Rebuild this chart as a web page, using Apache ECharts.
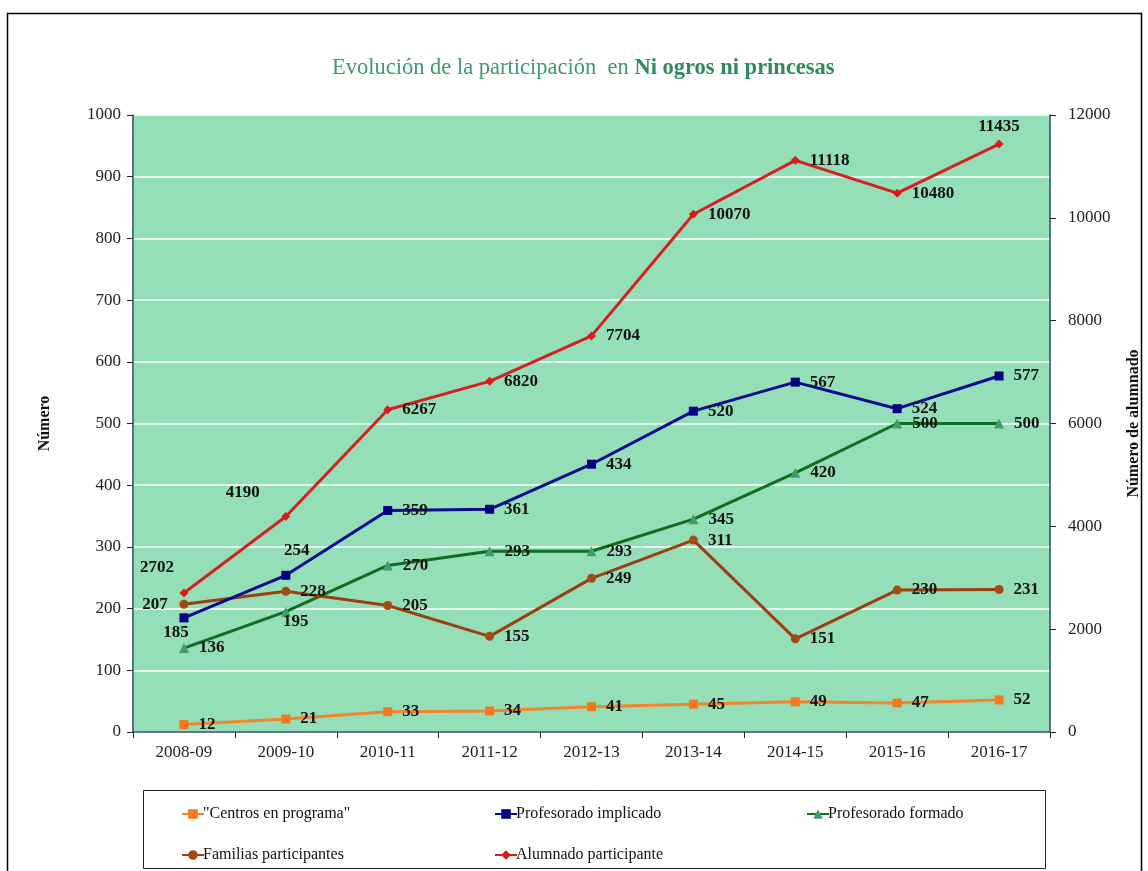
<!DOCTYPE html>
<html>
<head>
<meta charset="utf-8">
<script src="https://cdn.jsdelivr.net/npm/echarts@6/dist/echarts.min.js"></script>
<style>
  html, body { margin: 0; padding: 0; background: #fff; }
  #chart { width: 1148px; height: 871px; }
</style>
</head>
<body>
<div id="chart"></div>
<script>
// ---- Data ----
const categories = ['2008-09', '2009-10', '2010-11', '2011-12', '2012-13', '2013-14', '2014-15', '2015-16', '2016-17'];
const centros = [12, 21, 33, 34, 41, 45, 49, 47, 52];
const profImplicado = [185, 254, 359, 361, 434, 520, 567, 524, 577];
const profFormado = [136, 195, 270, 293, 293, 345, 420, 500, 500];
const familias = [207, 228, 205, 155, 249, 311, 151, 230, 231];
const alumnado = [2702, 4190, 6267, 6820, 7704, 10070, 11118, 10480, 11435];
const leftTicks = { min: 0, max: 1000, interval: 100 };
const rightTicks = { min: 0, max: 12000, interval: 2000 };

const FONT = '"Liberation Serif", "Times New Roman", serif';

const baseLabel = {
  show: true,
  position: 'right',
  distance: 10,
  color: '#111',
  fontFamily: FONT,
  fontWeight: 'bold',
  fontSize: 17
};

// per-point label overrides (style only)
function withLabels(values, overrides) {
  return values.map((v, i) => {
    const o = overrides[i];
    return o ? { value: v, label: o } : v;
  });
}

const chart = echarts.init(document.getElementById('chart'));

function legendItem(name, left, top) {
  return {
    data: [name],
    left: left,
    top: top,
    itemWidth: 22,
    itemHeight: 12,
    itemGap: 0,
    textStyle: { fontFamily: FONT, fontSize: 16, color: '#111', padding: [0, 0, 0, -6] },
    selectedMode: false
  };
}

const plainNum = v => String(v);

const option = {
  backgroundColor: '#ffffff',
  animation: false,
  title: {
    text: '{a|Evolución de la participación  en }{b|Ni ogros ni princesas}',
    left: 327,
    top: 52,
    textStyle: {
      rich: {
        a: { fontFamily: FONT, fontSize: 22.5, color: '#3c9a6c', fontWeight: 'normal' },
        b: { fontFamily: FONT, fontSize: 22.5, color: '#2f8a5c', fontWeight: 'bold' }
      }
    }
  },
  legend: [
    legendItem('"Centros en programa"', 176, 801),
    legendItem('Profesorado implicado', 489, 801),
    legendItem('Profesorado formado', 801, 801),
    legendItem('Familias participantes', 176, 842),
    legendItem('Alumnado participante', 489, 842)
  ],
  graphic: [
    {
      type: 'rect',
      shape: { x: 7.5, y: 13.5, width: 1134, height: 870 },
      style: { fill: 'none', stroke: '#000', lineWidth: 1.5 },
      silent: true, z: -1
    },
    {
      type: 'rect',
      shape: { x: 143.5, y: 790.5, width: 902, height: 78 },
      style: { fill: 'none', stroke: '#222', lineWidth: 1 },
      silent: true, z: -1
    }
  ],
  grid: {
    left: 133,
    right: 98,
    top: 115,
    bottom: 139,
    containLabel: false,
    outerBoundsMode: 'none',
    show: true,
    backgroundColor: '#94deb8',
    borderColor: '#a8d0f0',
    borderWidth: 1
  },
  xAxis: {
    type: 'category',
    data: categories,
    boundaryGap: true,
    axisLine: { lineStyle: { color: '#3a4a68', width: 1.5 } },
    axisTick: { show: true, length: 6, lineStyle: { color: '#222' } },
    axisLabel: { fontFamily: FONT, fontSize: 17, color: '#222', margin: 12 }
  },
  yAxis: [
    {
      type: 'value',
      min: leftTicks.min, max: leftTicks.max, interval: leftTicks.interval,
      position: 'left',
      name: 'Número',
      nameLocation: 'middle',
      nameGap: 80,
      nameRotate: 90,
      nameTextStyle: { fontFamily: FONT, fontSize: 16, fontWeight: 'bold', color: '#111' },
      axisLine: { show: true, lineStyle: { color: '#3a4a68', width: 1.5 } },
      axisTick: { show: true, length: 6, lineStyle: { color: '#222' } },
      axisLabel: { fontFamily: FONT, fontSize: 17, color: '#222', margin: 12, formatter: plainNum },
      splitLine: { show: true, lineStyle: { color: '#ffffff', width: 1.5 } }
    },
    {
      type: 'value',
      min: rightTicks.min, max: rightTicks.max, interval: rightTicks.interval,
      position: 'right',
      name: 'Número de alumnado',
      nameLocation: 'middle',
      nameGap: 76,
      nameRotate: 90,
      nameTextStyle: { fontFamily: FONT, fontSize: 16, fontWeight: 'bold', color: '#111' },
      axisLine: { show: true, lineStyle: { color: '#3a4a68', width: 1.5 } },
      axisTick: { show: true, inside: false, length: 6, lineStyle: { color: '#222' } },
      axisLabel: { fontFamily: FONT, fontSize: 17, color: '#222', margin: 18, formatter: plainNum },
      splitLine: { show: false }
    }
  ],
  series: [
    {
      name: '"Centros en programa"',
      type: 'line',
      yAxisIndex: 0,
      data: centros,
      symbol: 'rect',
      symbolSize: 9,
      lineStyle: { color: '#f5852a', width: 3 },
      itemStyle: { color: '#f5781e' },
      label: baseLabel,
      z: 3
    },
    {
      name: 'Profesorado implicado',
      type: 'line',
      yAxisIndex: 0,
      data: withLabels(profImplicado, {
        0: { position: 'inside', offset: [-8, 15] },
        1: { position: 'inside', offset: [11, -25] }
      }),
      symbol: 'rect',
      symbolSize: 9,
      lineStyle: { color: '#0a0a90', width: 3 },
      itemStyle: { color: '#000080' },
      label: baseLabel,
      z: 4
    },
    {
      name: 'Profesorado formado',
      type: 'line',
      yAxisIndex: 0,
      data: withLabels(profFormado, {
        1: { position: 'inside', offset: [10, 10] }
      }),
      symbol: 'triangle',
      symbolSize: 10,
      lineStyle: { color: '#0f6e1f', width: 3 },
      itemStyle: { color: '#3e9e6c' },
      label: baseLabel,
      z: 3
    },
    {
      name: 'Familias participantes',
      type: 'line',
      yAxisIndex: 0,
      data: withLabels(familias, {
        0: { position: 'inside', offset: [-29, 0] }
      }),
      symbol: 'circle',
      symbolSize: 9,
      lineStyle: { color: '#9a4010', width: 3 },
      itemStyle: { color: '#a44a16' },
      label: baseLabel,
      z: 3
    },
    {
      name: 'Alumnado participante',
      type: 'line',
      yAxisIndex: 1,
      data: withLabels(alumnado, {
        0: { position: 'inside', offset: [-27, -25] },
        1: { position: 'inside', offset: [-43, -24] },
        8: { position: 'top', distance: 4 }
      }),
      symbol: 'diamond',
      symbolSize: 9,
      lineStyle: { color: '#d42020', width: 3 },
      itemStyle: { color: '#dd1a1a' },
      label: baseLabel,
      z: 5
    }
  ]
};

chart.setOption(option);
</script>
</body>
</html>
